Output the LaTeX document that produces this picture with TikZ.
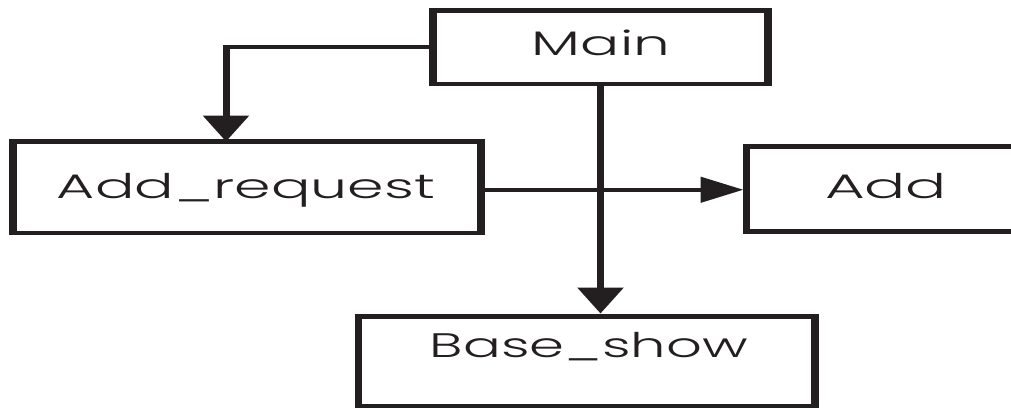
\documentclass[tikz,border=0pt]{standalone}
\usepackage{fontspec}
\setmainfont{Poppins}[UprightFont={* Light}]
\usetikzlibrary{arrows.meta}
\definecolor{ink}{RGB}{35,31,32}
% frame of a box: thin top and bottom, heavy left and right sides
\newcommand\drawboxframe[1]{%
  \draw[hline] (#1.north west) -- (#1.north east) (#1.south west) -- (#1.south east);
  \draw[vline] (#1.north west) -- (#1.south west);
  \draw[vline] (#1.north east) -- (#1.south east);}
\begin{document}
\begin{tikzpicture}[x=1pt,y=-1pt,
  box/.style={rectangle,draw=none,inner sep=0pt,outer sep=0pt},
  hline/.style={draw=ink,line width=4.5pt},
  vline/.style={draw=ink,line width=7.5pt,shorten <=-2.25pt,shorten >=-2.25pt},
  lbl/.style={inner sep=0pt,outer sep=0pt,text=ink,anchor=base,
              font=\fontsize{34}{40}\selectfont},
  downtip/.style={-{Triangle[width=45pt,length=26pt]},draw=ink,fill=ink,line width=7pt},
  righttip/.style={-{Triangle[width=25pt,length=43pt]},draw=ink,fill=ink,line width=4.5pt}]
\clip (0,0) rectangle (1011,408);
\fill[white] (0,0) rectangle (1011,408);

% boxes
\node[box,minimum width=335pt,minimum height=73.5pt]  (main)   at (600.5,47.25) {};
\node[box,minimum width=468pt,minimum height=91.5pt]  (addreq) at (247,187.25)  {};
\node[box,minimum width=278.5pt,minimum height=85pt]  (add)    at (885.75,189)  {};
\node[box,minimum width=456.5pt,minimum height=89.5pt](base)   at (586.75,361.25) {};

% labels
\node[lbl] (mainT)   at (601,55)  {\resizebox{138pt}{\height}{Main}};
\node[lbl] (addreqT) at (246,198) {\resizebox{378pt}{\height}{Add\_request}};
\node[lbl] (addT)    at (886,198) {\resizebox{122pt}{\height}{Add}};
\node[lbl] (baseT)   at (589,357) {\resizebox{318pt}{\height}{Base\_show}};

% connectors
\coordinate (bend) at (226,47);
\draw[hline,shorten >=-3.5pt] (main.west |- bend) -- (bend);
\draw[downtip] (bend) -- (bend |- addreq.north);
\draw[downtip] (main.south) -- ([yshift=3pt]main.south |- base.north);
\draw[righttip] ([yshift=-2.5pt]addreq.east) coordinate (fork) -- ([xshift=-3pt]fork -| add.west);

\drawboxframe{main}
\drawboxframe{addreq}
\drawboxframe{add}
\drawboxframe{base}
\end{tikzpicture}
\end{document}
